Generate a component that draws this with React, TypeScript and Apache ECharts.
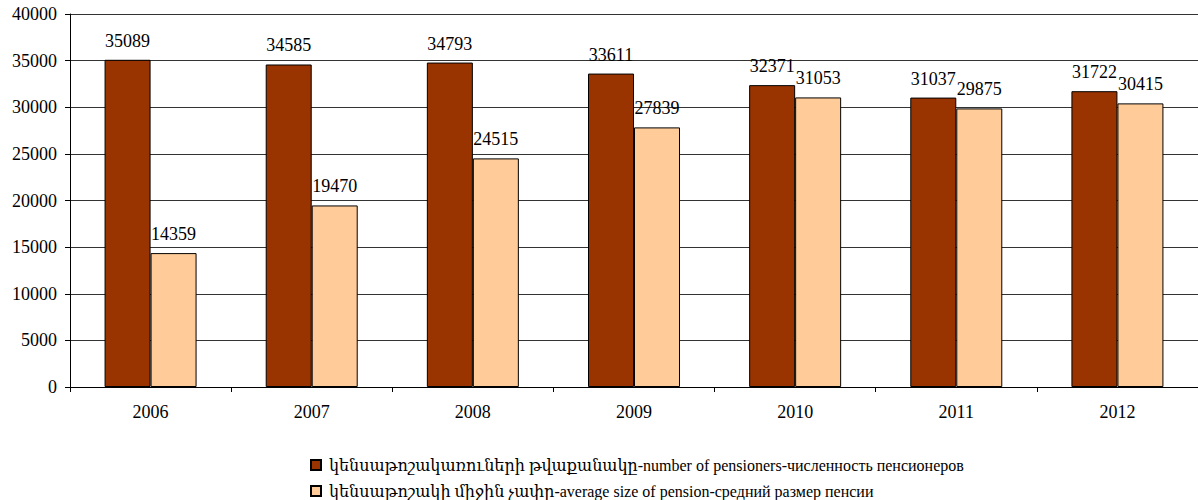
import React, { useEffect, useRef } from "react";
import * as echarts from "echarts";

const years = ["2006", "2007", "2008", "2009", "2010", "2011", "2012"];
const pensioners = [35089, 34585, 34793, 33611, 32371, 31037, 31722];
const avgPension = [14359, 19470, 24515, 27839, 31053, 29875, 30415];
const seriesNames = [
  "կենսաթոշակառուների թվաքանակը-number of pensioners-численность пенсионеров",
  "կենսաթոշակի միջին չափը-average size of pension-средний размер пенсии",
];

const FONT = "'Liberation Serif', 'Times New Roman', 'DejaVu Serif', serif";

export default function App() {
  const ref = useRef<HTMLDivElement>(null);
  useEffect(() => {
    if (!ref.current) return;
    const chart = echarts.init(ref.current, undefined, { renderer: "svg" });
    const labelStyle = {
      show: true,
      position: "top" as const,
      distance: 10,
      color: "#000",
      fontFamily: FONT,
      fontSize: 18,
    };
    const legendBase = {
      orient: "horizontal",
      left: 305,
      itemWidth: 10,
      itemHeight: 10,
      icon: "rect",
      textStyle: { fontFamily: FONT, fontSize: 16, color: "#000", padding: [0, 0, 0, 3] },
    };
    chart.setOption({
      animation: false,
      textStyle: { fontFamily: FONT },
      grid: { left: 70, top: 14, width: 1133, height: 373, containLabel: false },
      legend: [
        { ...legendBase, top: 452, data: [seriesNames[0]] },
        { ...legendBase, top: 478, data: [seriesNames[1]] },
      ],
      xAxis: {
        type: "category",
        data: years,
        axisLine: { lineStyle: { color: "#000", width: 1 } },
        axisTick: { show: true, length: 5, lineStyle: { color: "#000" } },
        axisLabel: { color: "#000", fontSize: 18, fontFamily: FONT, margin: 16 },
      },
      yAxis: {
        type: "value",
        min: 0,
        max: 40000,
        interval: 5000,
        axisLine: { show: true, lineStyle: { color: "#000", width: 1 } },
        axisTick: { show: true, length: 5, lineStyle: { color: "#000" } },
        axisLabel: {
          color: "#000",
          fontSize: 18,
          fontFamily: FONT,
          margin: 13,
          formatter: (v: number) => String(v),
        },
        splitLine: { show: true, lineStyle: { color: "#333", width: 1 } },
      },
      series: [
        {
          name: seriesNames[0],
          type: "bar",
          data: pensioners,
          barGap: "0%",
          barWidth: 46,
          itemStyle: { color: "#993300", borderColor: "#000", borderWidth: 1 },
          label: labelStyle,
        },
        {
          name: seriesNames[1],
          type: "bar",
          data: avgPension,
          barGap: "0%",
          barWidth: 46,
          itemStyle: { color: "#FFCC99", borderColor: "#000", borderWidth: 1 },
          label: labelStyle,
        },
      ],
    });
    return () => chart.dispose();
  }, []);
  return (
    <div
      ref={ref}
      style={{ position: "absolute", left: 0, top: 0, width: 1198, height: 500 }}
    />
  );
}
